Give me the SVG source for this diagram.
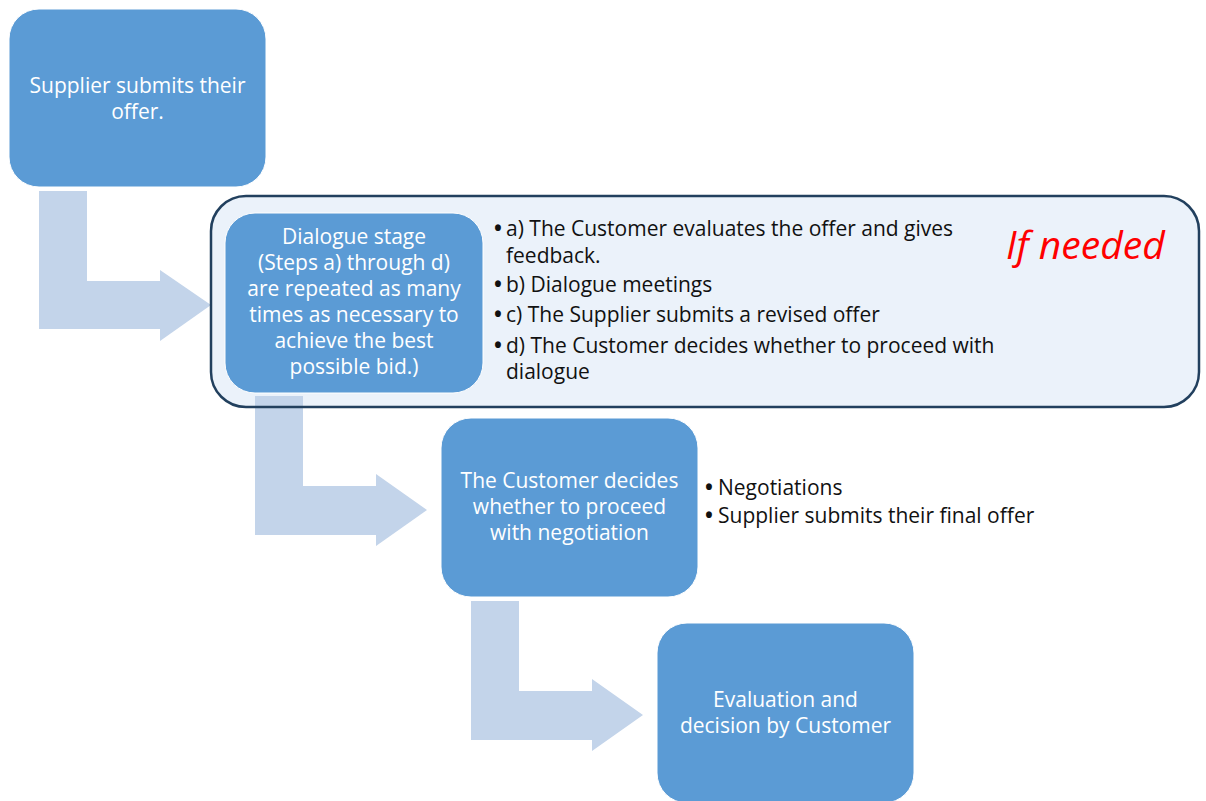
<svg xmlns="http://www.w3.org/2000/svg" width="1206" height="801" viewBox="0 0 1206 801">
<style>
.box{fill:#5b9bd5;stroke:#ffffff;stroke-width:1}
.arr{fill:#c3d4ea}
.wt{font-family:"Open Sans","Noto Sans",sans-serif;font-size:21px;fill:#ffffff;text-anchor:middle}
.bt{font-family:"Open Sans","Noto Sans",sans-serif;font-size:21px;fill:#111111}
.bu{font-weight:bold}
.red{font-family:"Open Sans","Noto Sans",sans-serif;font-size:39px;font-style:italic;fill:#ff0000}
</style>
<rect width="1206" height="801" fill="#ffffff"/>
<g id="container-fill">
<rect x="211" y="196" width="988" height="211" rx="35" fill="#ebf2fa"/>
</g>
<g id="connectors">
<polygon class="arr" points="39,191 87,191 87,281 160,281 160,270 211,305 160,341 160,329 39,329"/>
<polygon class="arr" points="255,396 303,396 303,486 376,486 376,474 427,510 376,546 376,535 255,535"/>
<polygon class="arr" points="471,601 519,601 519,691 592,691 592,679 643,715 592,751 592,740 471,740"/>
</g>
<g id="container">
<rect x="211" y="196" width="988" height="211" rx="35" fill="none" stroke="#22405e" stroke-width="2.5"/>
<text class="red" x="1006" y="259">If needed</text>
<text class="bt" x="494" y="236"><tspan class="bu">•</tspan><tspan x="506">a) The Customer evaluates the offer and gives</tspan><tspan x="506" y="263">feedback.</tspan></text>
<text class="bt" x="494" y="292"><tspan class="bu">•</tspan><tspan x="506">b) Dialogue meetings</tspan></text>
<text class="bt" x="494" y="322"><tspan class="bu">•</tspan><tspan x="506">c) The Supplier submits a revised offer</tspan></text>
<text class="bt" x="494" y="353"><tspan class="bu">•</tspan><tspan x="506">d) The Customer decides whether to proceed with</tspan><tspan x="506" y="379">dialogue</tspan></text>
</g>
<g id="node-supplier">
<rect class="box" x="9" y="9" width="257" height="178" rx="30"/>
<text class="wt"><tspan x="137.5" y="93">Supplier submits their</tspan><tspan x="137.5" y="119">offer.</tspan></text>
</g>
<g id="node-dialogue">
<rect class="box" x="225" y="213" width="258" height="180" rx="30"/>
<text class="wt"><tspan x="354" y="244">Dialogue stage</tspan><tspan x="354" y="270">(Steps a) through d)</tspan><tspan x="354" y="296">are repeated as many</tspan><tspan x="354" y="322">times as necessary to</tspan><tspan x="354" y="348">achieve the best</tspan><tspan x="354" y="374">possible bid.)</tspan></text>
</g>
<g id="node-negotiation">
<rect class="box" x="441" y="418" width="257" height="179" rx="30"/>
<text class="wt"><tspan x="569.5" y="488">The Customer decides</tspan><tspan x="569.5" y="514">whether to proceed</tspan><tspan x="569.5" y="540">with negotiation</tspan></text>
<text class="bt" x="705" y="495"><tspan class="bu">•</tspan><tspan x="718">Negotiations</tspan><tspan x="705" y="523" class="bu">•</tspan><tspan x="718">Supplier submits their final offer</tspan></text>
</g>
<g id="node-evaluation">
<rect class="box" x="657" y="623" width="257" height="180" rx="30"/>
<text class="wt"><tspan x="785.5" y="707">Evaluation and</tspan><tspan x="785.5" y="733">decision by Customer</tspan></text>
</g>
</svg>
